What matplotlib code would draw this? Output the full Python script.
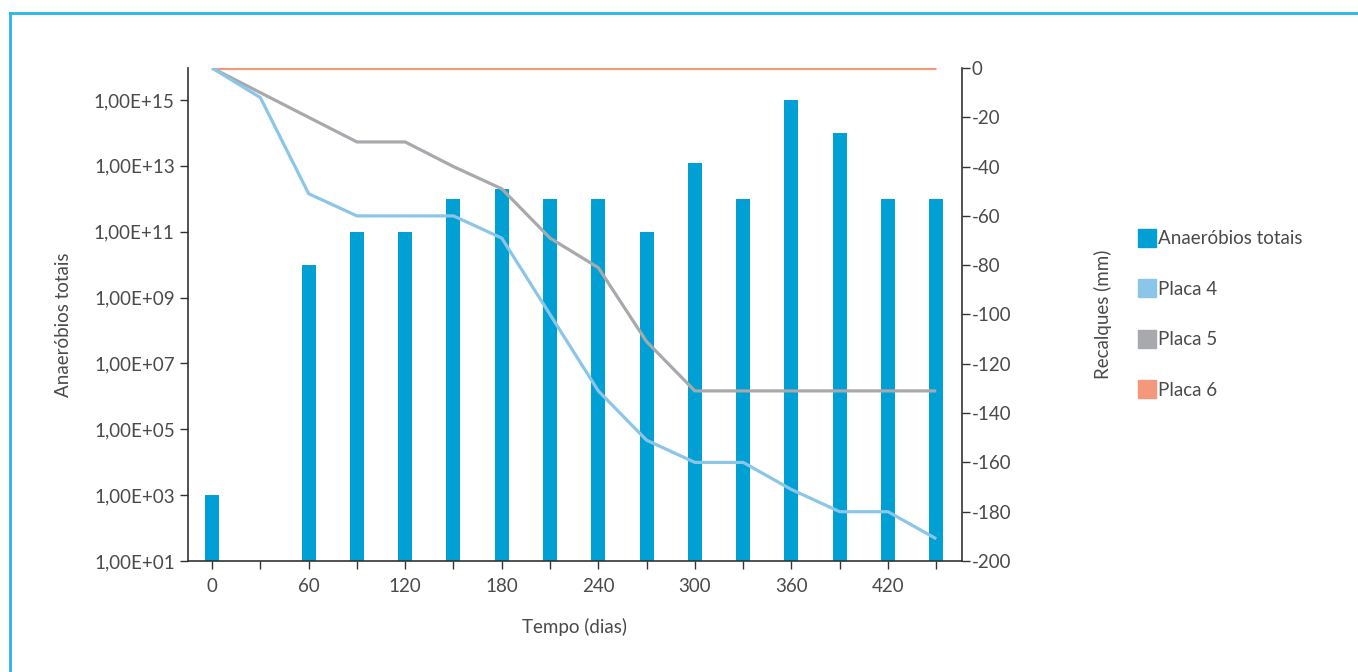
import numpy as np
import matplotlib.pyplot as plt
from matplotlib.ticker import FixedLocator, FuncFormatter, NullLocator
from matplotlib.lines import Line2D

plt.rcParams['font.family'] = ['Lato', 'DejaVu Sans']
plt.rcParams['axes.unicode_minus'] = False

# dados
dias_bac = [0, 60, 90, 120, 150, 180, 210, 240, 270, 300, 330, 360, 390, 420, 450]
anaerobios = [1e3, 1e10, 1e11, 1e11, 1e12, 2e12, 1e12, 1e12, 1e11, 1.2e13, 1e12, 1e15, 1e14, 1e12, 1e12]

dias = [0, 30, 60, 90, 120, 150, 180, 210, 240, 270, 300, 330, 360, 390, 420, 450]
placa4 = [0, -12, -51, -60, -60, -60, -69, -100, -131, -151, -160, -160, -171, -180, -180, -191]
placa5 = [0, -10, -20, -30, -30, -40, -49, -69, -81, -111, -131, -131, -131, -131, -131, -131]
placa6 = [0, 0, 0, 0, 0, 0, 0, 0, 0, 0, 0, 0, 0, 0, 0, 0]

cor_bar = '#009fd4'
cor_p4 = '#8bc6e8'
cor_p5 = '#a7a9ac'
cor_p6 = '#f4977a'
cor_txt = '#4a4a4a'
cor_eixo = '#333333'
fs = 13.5

fig = plt.figure(figsize=(13.58, 6.72), dpi=100)
ax = fig.add_axes([0.1384, 0.1652, 0.5700, 0.7336])

ax.bar(dias_bac, anaerobios, width=8.7, color=cor_bar, bottom=10, zorder=2)
ax.set_yscale('log')
ax.set_ylim(10, 10**15.97)
ax.set_xlim(-15, 466)

ax.yaxis.set_major_locator(FixedLocator([10.0**e for e in range(1, 16, 2)]))
ax.yaxis.set_minor_locator(NullLocator())
ax.yaxis.set_major_formatter(FuncFormatter(lambda v, p: '1,00E+%02d' % round(np.log10(v))))

ax.set_xticks(range(0, 451, 30))
ax.set_xticklabels([str(d) if d % 60 == 0 else '' for d in range(0, 451, 30)])

for s in ['top', 'right']:
    ax.spines[s].set_visible(False)
for s in ['left', 'bottom']:
    ax.spines[s].set_color(cor_eixo)
    ax.spines[s].set_linewidth(1.2)
ax.tick_params(colors=cor_eixo, labelcolor=cor_txt, labelsize=fs, length=6, width=1.0)
ax.tick_params(axis='x', pad=6)

ax.set_ylabel('Anaeróbios totais', fontsize=fs, color=cor_txt)
ax.yaxis.set_label_coords(-0.15, 0.48)
ax.set_xlabel('Tempo (dias)', fontsize=fs, color=cor_txt)
ax.xaxis.set_label_coords(0.5, -0.115)

ax2 = ax.twinx()
ax2.plot(dias, placa6, color=cor_p6, lw=2.3, solid_capstyle='butt')
ax2.plot(dias, placa5, color=cor_p5, lw=2.3, solid_capstyle='butt')
ax2.plot(dias, placa4, color=cor_p4, lw=2.3, solid_capstyle='butt')
ax2.set_ylim(-200, 0)
ax2.set_yticks(range(-200, 1, 20))
for s in ['top', 'left', 'bottom']:
    ax2.spines[s].set_visible(False)
ax2.spines['right'].set_color(cor_eixo)
ax2.spines['right'].set_linewidth(1.2)
ax2.tick_params(colors=cor_eixo, labelcolor=cor_txt, labelsize=fs, length=6, width=1.0, pad=1)
ax2.set_ylabel('Recalques (mm)', fontsize=fs, color=cor_txt)
ax2.yaxis.set_label_coords(1.17, 0.5)

handles = [Line2D([], [], marker='s', ls='none', markersize=12.5, color=c)
           for c in [cor_bar, cor_p4, cor_p5, cor_p6]]
nomes = ['Anaeróbios totais', 'Placa 4', 'Placa 5', 'Placa 6']
fig.legend(handles, nomes, loc='center left', bbox_to_anchor=(0.8385, 0.532),
           frameon=False, fontsize=fs, labelcolor=cor_txt, handlelength=0.9,
           handletextpad=0.15, labelspacing=1.78, borderaxespad=0, borderpad=0)

# moldura
fig.add_artist(Line2D([0.0077, 0.0077], [0.0, 0.9806], transform=fig.transFigure,
                      color='#29b5e5', lw=2))
fig.add_artist(Line2D([0.0077, 1.0], [0.9806, 0.9806], transform=fig.transFigure,
                      color='#29b5e5', lw=2))

fig.savefig('out.png', dpi=100)
